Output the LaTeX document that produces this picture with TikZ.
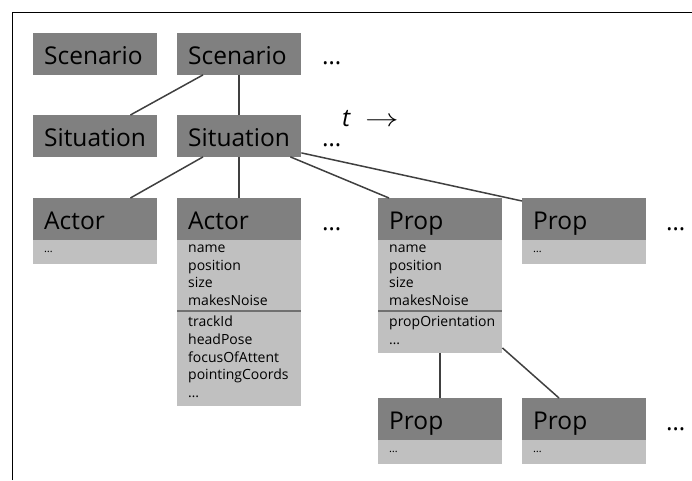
\documentclass[tikz,border=0pt]{standalone}
\usepackage{fontspec}
\setmainfont{Open Sans}
\usepackage{graphicx}
\usetikzlibrary{positioning}
\definecolor{hdrgray}{HTML}{808080}
\definecolor{bodygray}{HTML}{C0C0C0}
\definecolor{wiregray}{HTML}{404040}
\definecolor{sepgray}{HTML}{707070}
\newcommand{\hdrfont}{\fontsize{24.5}{29}\selectfont}
\newcommand{\attrfont}{\fontsize{14}{17.7}\selectfont}
\newcommand{\cls}[4]{% x, y, name, class name   (dark header, 124 x 41)
  \node[hdr] (#3) at (#1,#2) {\makebox[102pt][l]{#4}};}
\newcommand{\dotsbody}[2]{% header name, body name   (light body with dots only)
  \node[stubbody,below=0pt of #1] (#2) {\dots};}
\newcommand{\rowdots}[3]{% x, y, name   (dots after a row, on the baseline)
  \node[hdrtext,anchor=base west] (#3) at (#1,#2) {\dots};}
\tikzset{
  hdr/.style={fill=hdrgray,anchor=north west,inner xsep=11pt,inner ysep=0pt,
    text height=31.5pt,text depth=10pt,font=\hdrfont},
  attr/.style={fill=bodygray,inner xsep=11pt,inner ysep=0pt,text width=102pt,
    align=left,font=\attrfont,execute at begin node=\strut,execute at end node=\strut},
  attrlow/.style={attr,inner ysep=3pt},
  stubbody/.style={fill=bodygray,inner xsep=11pt,inner ysep=0pt,text width=102pt,
    minimum height=24pt,align=left,font=\fontsize{11}{13}\selectfont},
  hdrtext/.style={inner sep=0pt,font=\hdrfont},
  wire/.style={draw=wiregray,line width=1.5pt},
  sep/.style={draw=sepgray,line width=2pt},
}
\begin{document}
\begin{tikzpicture}[x=1pt,y=-1pt]
  \useasboundingbox (0,0) rectangle (692,480);
  % frame, open to the right and bottom
  \draw[line width=1.5pt] (12.5,480) |- (692,12.5);
  % scenarios
  \cls{33}{33}{sc1}{Scenario}
  \cls{177}{33}{sc2}{Scenario}
  \rowdots{322}{64}{scd}
  % situations
  \cls{33}{115}{si1}{Situation}
  \cls{177}{115}{si2}{Situation}
  \rowdots{322}{146}{sid}
  \node[hdrtext,anchor=base west] (time) at (342,126)
       {\textit{t}\hspace{14pt}\scalebox{1.35}[1]{$\rightarrow$}};
  % actors
  \cls{33}{198}{ac1}{Actor}
  \dotsbody{ac1}{ac1b}
  \cls{177}{198}{ac2}{Actor}
  \node[attr,below=0pt of ac2] (ac2a) {name\\position\\size\\makesNoise};
  \node[attrlow,below=0pt of ac2a] (ac2b)
       {trackId\\headPose\\focusOfAttent\\pointingCoords\\\dots};
  \draw[sep] (ac2a.south west) -- (ac2a.south east);
  \rowdots{322}{230}{acd}
  % props
  \cls{378}{198}{pr1}{Prop}
  \node[attr,below=0pt of pr1] (pr1a) {name\\position\\size\\makesNoise};
  \node[attrlow,below=0pt of pr1a] (pr1b) {propOrientation\\\dots};
  \draw[sep] (pr1a.south west) -- (pr1a.south east);
  \cls{522}{198}{pr2}{Prop}
  \dotsbody{pr2}{pr2b}
  \rowdots{666}{230}{prd}
  \cls{378}{398}{pr3}{Prop}
  \dotsbody{pr3}{pr3b}
  \cls{522}{398}{pr4}{Prop}
  \dotsbody{pr4}{pr4b}
  \rowdots{666}{430}{pre}
  % connectors
  \draw[wire] ([xshift=26pt]sc2.south west) -- ([xshift=-27pt]si1.north east);
  \draw[wire] (sc2.south) -- (si2.north);
  \draw[wire] ([xshift=26pt]si2.south west) -- ([xshift=-27pt]ac1.north east);
  \draw[wire] (si2.south) -- (ac2.north);
  \draw[wire] ([xshift=-11pt]si2.south east) -- ([xshift=11pt]pr1.north west);
  \draw[wire] ([yshift=4pt]si2.south east) -- ([yshift=-3pt]pr2.north west);
  \draw[wire] (pr1b.south) -- (pr3.north);
  \draw[wire] ([yshift=5pt]pr1b.south east) -- ([xshift=37pt]pr4.north west);
\end{tikzpicture}
\end{document}
